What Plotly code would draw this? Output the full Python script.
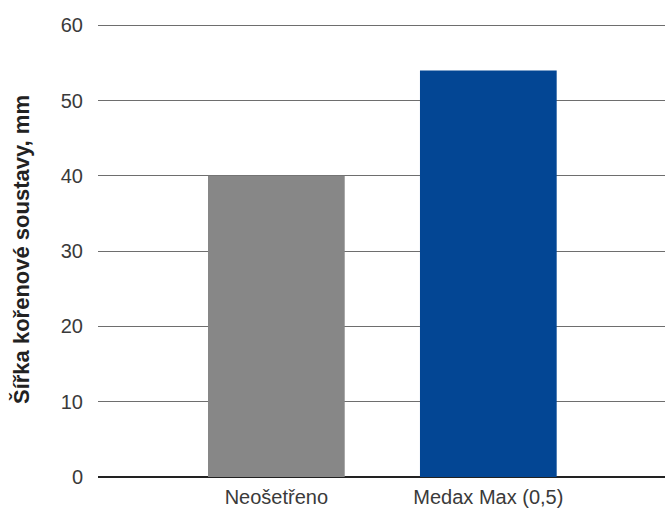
import plotly.graph_objects as go

categories = ["Neošetřeno", "Medax Max (0,5)"]
values = [40, 54]
bar_colors = ["#878787", "#034694"]
y_ticks = [0, 10, 20, 30, 40, 50, 60]
y_title = "Šířka kořenové soustavy, mm"

fig = go.Figure(go.Bar(
    x=categories, y=values, marker=dict(color=bar_colors, line=dict(width=0)),
    width=0.645,
))

fig.update_layout(
    width=665, height=510,
    margin=dict(l=98, r=0, t=23, b=33),
    paper_bgcolor="white", plot_bgcolor="white",
    showlegend=False,
    font=dict(family="Liberation Sans, Arial, sans-serif", size=20, color="#3a3a3a"),
)
fig.update_xaxes(
    range=[-0.8415, 1.8335], showgrid=False, zeroline=False,
    showline=False, ticks="", ticklabelstandoff=6,
    tickfont=dict(size=20, color="#3a3a3a"),
)
fig.update_yaxes(
    range=[0, 60.3], tickvals=y_ticks, showgrid=True, gridcolor="#6e6e6e", gridwidth=1,
    zeroline=True, zerolinecolor="#222222", zerolinewidth=1.5,
    showline=False, ticks="", ticklabelstandoff=14,
    tickfont=dict(size=20, color="#3a3a3a"),
)
fig.add_annotation(
    text=y_title, textangle=-90, xref="paper", yref="paper",
    x=-(98 - 21) / 567, y=0.5, xanchor="center", yanchor="middle", showarrow=False,
    font=dict(size=22, color="#222222", family="Liberation Sans, Arial, sans-serif", weight="bold"),
)

fig.write_html("out.html", config={"displayModeBar": False},
               post_script="document.body.style.margin='0';document.body.style.padding='0';")
